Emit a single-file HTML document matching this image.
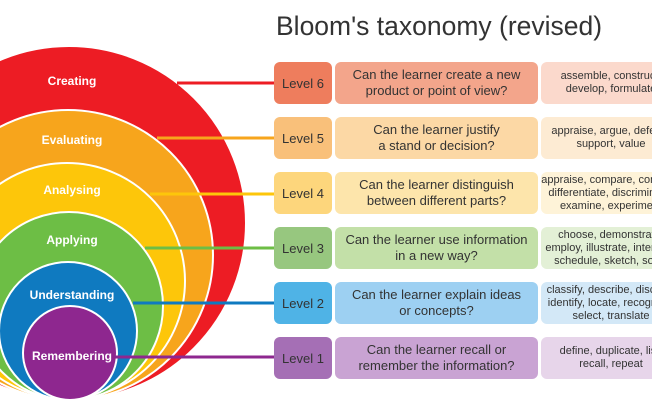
<!DOCTYPE html>
<html><head><style>
body{margin:0;width:652px;height:410px;overflow:hidden;background:#fff;font-family:"Liberation Sans",sans-serif;position:relative}
.t{position:absolute;left:276px;top:11px;font-size:26.5px;color:#333;white-space:nowrap}
.r{position:absolute;left:274px;height:42px;width:400px}
.r div{position:absolute;top:0;height:42px;display:flex;align-items:center;justify-content:center;text-align:center;color:#333;border-radius:6px}
.a{left:0;width:58px;font-size:13px}
.b{left:61px;width:203px;font-size:13px;line-height:16px}
.c{left:267px;width:140px;font-size:11px;line-height:13px}
</style></head><body>
<svg width="652" height="410" style="position:absolute;left:0;top:0">
<g stroke="#fff" stroke-width="2">
<circle cx="69" cy="223" r="177" fill="#ed1c24"/>
<circle cx="68" cy="255" r="145" fill="#f7a51c"/>
<circle cx="67" cy="281" r="118" fill="#fdc60a"/>
<circle cx="69" cy="306" r="94" fill="#6dbe45"/>
<circle cx="68" cy="331" r="69" fill="#0f7ac0"/>
<circle cx="70" cy="353" r="47" fill="#8e278f"/>
</g>
<g stroke-width="3">
<line x1="177" y1="83" x2="275" y2="83" stroke="#ed1c24"/>
<line x1="157" y1="138" x2="275" y2="138" stroke="#f7a51c"/>
<line x1="150" y1="194" x2="275" y2="194" stroke="#fdc60a"/>
<line x1="145" y1="248" x2="275" y2="248" stroke="#6dbe45"/>
<line x1="133" y1="303" x2="275" y2="303" stroke="#0f7ac0"/>
<line x1="112" y1="357" x2="275" y2="357" stroke="#8e278f"/>
</g>
<g fill="#fff" font-family="Liberation Sans" font-weight="bold" font-size="12" text-anchor="middle">
<text x="72" y="85">Creating</text>
<text x="72" y="144">Evaluating</text>
<text x="72" y="194">Analysing</text>
<text x="72" y="244">Applying</text>
<text x="72" y="299">Understanding</text>
<text x="72" y="360">Remembering</text>
</g>
</svg>
<div class="t">Bloom's taxonomy (revised)</div>
<div class="r" style="top:62px"><div class="a" style="background:#ee7d5d">Level 6</div><div class="b" style="background:#f3a58b">Can the learner create a new<br>product or point of view?</div><div class="c" style="background:#fbd9cc">assemble, construct,<br>develop, formulate</div></div>
<div class="r" style="top:117px"><div class="a" style="background:#f9c07a">Level 5</div><div class="b" style="background:#fcd8a5">Can the learner justify<br>a stand or decision?</div><div class="c" style="background:#fdebd3">appraise, argue, defend,<br>support, value</div></div>
<div class="r" style="top:172px"><div class="a" style="background:#fdd67c">Level 4</div><div class="b" style="background:#fde5ab">Can the learner distinguish<br>between different parts?</div><div class="c" style="background:#fef3d8">appraise, compare, contrast,<br>differentiate, discriminate,<br>examine, experiment</div></div>
<div class="r" style="top:227px"><div class="a" style="background:#97c77f">Level 3</div><div class="b" style="background:#c3e0a8">Can the learner use information<br>in a new way?</div><div class="c" style="background:#e3f0d6">choose, demonstrate,<br>employ, illustrate, interpret,<br>schedule, sketch, solve</div></div>
<div class="r" style="top:282px"><div class="a" style="background:#4fb3e6">Level 2</div><div class="b" style="background:#9dd0f2">Can the learner explain ideas<br>or concepts?</div><div class="c" style="background:#d3e8f7">classify, describe, discuss,<br>identify, locate, recognise,<br>select, translate</div></div>
<div class="r" style="top:337px"><div class="a" style="background:#a56fb5">Level 1</div><div class="b" style="background:#c9a3d3">Can the learner recall or<br>remember the information?</div><div class="c" style="background:#e7d5ea">define, duplicate, list,<br>recall, repeat</div></div>
</body></html>
